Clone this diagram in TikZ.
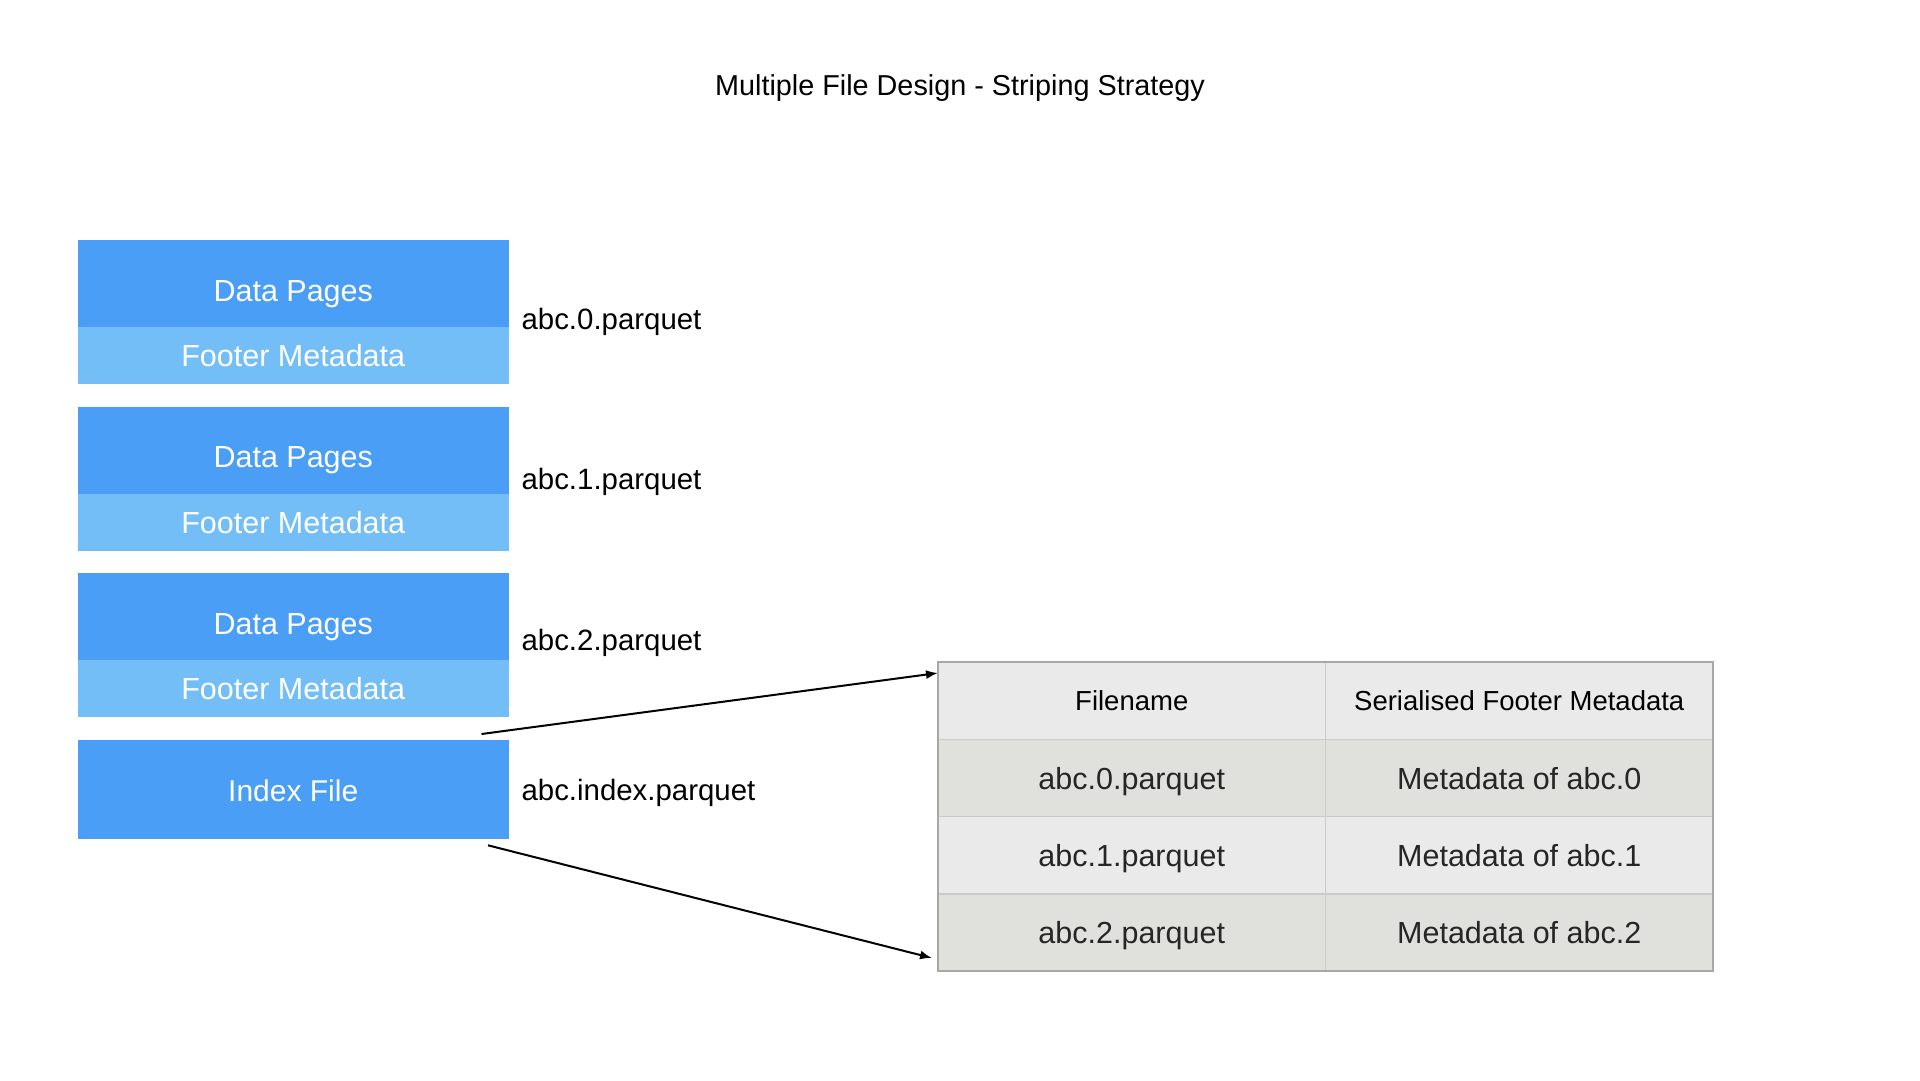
\documentclass[tikz,border=0pt]{standalone}
\usepackage{fontspec}
\setmainfont{Liberation Sans}
\usetikzlibrary{arrows.meta}
\definecolor{darkb}{HTML}{4A9EF6}
\definecolor{lightb}{HTML}{74BEF8}
\definecolor{hdrc}{HTML}{EAEAEA}
\definecolor{rowa}{HTML}{E0E0DC}
\definecolor{rowb}{HTML}{EAEAEA}
\definecolor{gridc}{HTML}{CACACA}
\definecolor{bordc}{HTML}{A8A8A8}
\definecolor{txtc}{HTML}{262626}
\begin{document}
\begin{tikzpicture}[x=1pt,y=-1pt,
  boxbase/.style={inner sep=0pt, outer sep=0pt, anchor=north west, minimum width=430.5pt, text=white, text depth=0pt},
  datab/.style={boxbase, fill=darkb, minimum height=87pt, font=\fontsize{30.5}{30.5}\selectfont, text height=35pt},
  footb/.style={boxbase, fill=lightb, minimum height=57pt, font=\fontsize{30.5}{30.5}\selectfont, text height=22.4pt},
  indexb/.style={boxbase, fill=darkb, minimum height=99.3pt, font=\fontsize{30}{30}\selectfont, text height=24.4pt},
  lbl/.style={anchor=base west, inner sep=0pt, font=\fontsize{29.4}{29.4}\selectfont},
  cellbase/.style={inner sep=0pt, outer sep=0pt, anchor=north west, minimum width=387.5pt, minimum height=77.25pt, draw=gridc, line width=1.5pt, text=txtc, text depth=0pt},
  hcell/.style={cellbase, fill=hdrc, text=black, font=\fontsize{27.5}{27.5}\selectfont, text height=18.8pt},
  cella/.style={cellbase, fill=rowa, font=\fontsize{30.5}{30.5}\selectfont, text height=22.8pt},
  cellb/.style={cellbase, fill=rowb, font=\fontsize{30.5}{30.5}\selectfont, text height=22.8pt},
  arr/.style={line width=2pt, -{Latex[length=12pt,width=9pt]}}
]
\useasboundingbox (0,0) rectangle (1920,1080);

\node[anchor=base, inner sep=0pt, font=\fontsize{28.8}{28.8}\selectfont] (title) at (960,95.5) {Multiple File Design - Striping Strategy};

% file boxes
\node[datab] (d0) at (78,240) {Data Pages};
\node[footb] (f0) at (78,327) {Footer Metadata};
\node[datab] (d1) at (78,406.7) {Data Pages};
\node[footb] (f1) at (78,493.5) {Footer Metadata};
\node[datab] (d2) at (78,573.3) {Data Pages};
\node[footb] (f2) at (78,660) {Footer Metadata};
\node[indexb] (idx) at (78,740) {Index File};

% file labels
\node[lbl] (l0) at (521.4,329) {abc.0.parquet};
\node[lbl] (l1) at (521.4,489) {abc.1.parquet};
\node[lbl] (l2) at (521.4,650) {abc.2.parquet};
\node[lbl] (li) at (521.4,800) {abc.index.parquet};

% table
\node[hcell] (h1) at (938,662) {Filename};
\node[hcell] (h2) at (1325.5,662) {Serialised Footer Metadata};
\node[cella] (r0c1) at (938,739.25) {abc.0.parquet};
\node[cella] (r0c2) at (1325.5,739.25) {Metadata of abc.0};
\node[cellb] (r1c1) at (938,816.5) {abc.1.parquet};
\node[cellb] (r1c2) at (1325.5,816.5) {Metadata of abc.1};
\node[cella] (r2c1) at (938,893.75) {abc.2.parquet};
\node[cella] (r2c2) at (1325.5,893.75) {Metadata of abc.2};
\draw[draw=bordc, line width=2pt] (h1.north west) rectangle (r2c2.south east);

% arrows
\draw[arr] ([xshift=-27pt,yshift=6pt]idx.north east) -- ([yshift=-11pt]h1.north west);
\draw[arr] ([xshift=-20.5pt,yshift=-6pt]idx.south east) -- ([xshift=-6pt,yshift=13pt]r2c1.south west);
\end{tikzpicture}
\end{document}
